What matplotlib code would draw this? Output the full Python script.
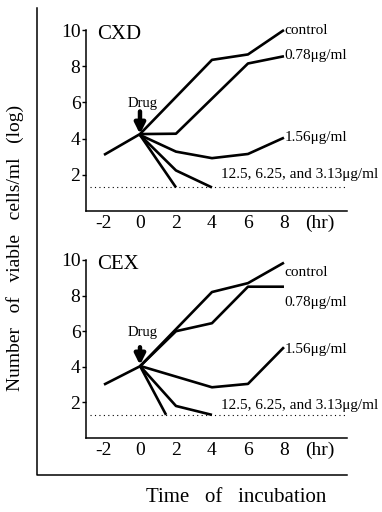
import matplotlib
matplotlib.use("Agg")
import matplotlib.pyplot as plt
from matplotlib.lines import Line2D

plt.rcParams['font.family'] = ['Liberation Serif', 'DejaVu Serif']
plt.rcParams['axes.unicode_minus'] = False

# CXD panel (hours, log viable cells/ml)
cxd_control_t = [-2, 0, 4, 6, 8]
cxd_control_v = [3.1, 4.25, 8.35, 8.65, 10.0]
cxd_078_t = [0, 2, 6, 8]
cxd_078_v = [4.25, 4.27, 8.15, 8.55]
cxd_156_t = [0, 2, 4, 6, 8]
cxd_156_v = [4.2, 3.28, 2.92, 3.15, 4.05]
cxd_high_a_t = [0, 2]
cxd_high_a_v = [4.2, 1.3]
cxd_high_b_t = [0, 2, 4]
cxd_high_b_v = [4.2, 2.24, 1.3]

# CEX panel
cex_control_t = [-2, 0, 4, 6, 8]
cex_control_v = [3.0, 4.03, 8.2, 8.7, 9.85]
cex_078_t = [0, 2, 4, 6, 8]
cex_078_v = [4.03, 6.0, 6.45, 8.5, 8.5]
cex_156_t = [0, 4, 6, 8]
cex_156_v = [4.05, 2.85, 3.04, 5.1]
cex_high_a_t = [0, 1.45]
cex_high_a_v = [4.05, 1.3]
cex_high_b_t = [0, 2, 4]
cex_high_b_v = [4.05, 1.8, 1.3]

detect_limit = 1.3
xticks = [-2, 0, 2, 4, 6, 8]
yticks = [2, 4, 6, 8, 10]


def draw_panel(ax, name, series, labels, drug_y, arrow):
    for t, v in series:
        ax.plot(t, v, color='black', lw=1.9, solid_capstyle='butt', clip_on=False)
    ax.plot([-2.8, 11.5], [detect_limit, detect_limit], color='black', lw=0.8,
            linestyle=(0, (1, 3)), clip_on=False)
    ax.set_xlim(-3, 11.5)
    ax.set_ylim(0, 10)
    for s in ['top', 'right']:
        ax.spines[s].set_visible(False)
    for s in ['left', 'bottom']:
        ax.spines[s].set_linewidth(1.1)
    ax.set_xticks(xticks)
    ax.set_yticks(yticks)
    ax.tick_params(axis='x', length=0, pad=3, labelsize=14)
    ax.tick_params(axis='y', length=3, width=1, pad=1, labelsize=14)
    ax.annotate('(hr)', xy=(10.0, 0), xycoords=('data', 'axes fraction'),
                xytext=(0, -3), textcoords='offset points', ha='center', va='top',
                fontsize=14)
    ax.text(-2.4, 9.75, name, fontsize=15, ha='left', va='center')
    for txt, x, y in labels:
        ax.text(x, y, txt, fontsize=11, ha='left', va='center', clip_on=False)
    ax.text(0.15, drug_y, 'Drug', fontsize=10.5, ha='center', va='center')
    ax.annotate('', xy=(0, arrow[1]), xytext=(0, arrow[0]),
                arrowprops=dict(arrowstyle='-|>,head_width=0.3,head_length=0.6',
                                lw=3.2, color='black', shrinkA=0, shrinkB=0))


fig = plt.figure(figsize=(3.82, 5.12), dpi=100)
ax1 = fig.add_axes([0.2251, 0.5879, 0.6832, 0.3535])
ax2 = fig.add_axes([0.2251, 0.1445, 0.6832, 0.3477])

draw_panel(ax1, 'CXD',
           [(cxd_control_t, cxd_control_v), (cxd_078_t, cxd_078_v),
            (cxd_156_t, cxd_156_v), (cxd_high_a_t, cxd_high_a_v),
            (cxd_high_b_t, cxd_high_b_v)],
           [('control', 8.05, 10.0), ('0.78μg/ml', 8.05, 8.6),
            ('1.56μg/ml', 8.05, 4.05), ('12.5, 6.25, and 3.13μg/ml', 4.5, 2.0)],
           5.95, (5.5, 4.25))
draw_panel(ax2, 'CEX',
           [(cex_control_t, cex_control_v), (cex_078_t, cex_078_v),
            (cex_156_t, cex_156_v), (cex_high_a_t, cex_high_a_v),
            (cex_high_b_t, cex_high_b_v)],
           [('control', 8.05, 9.3), ('0.78μg/ml', 8.05, 7.6),
            ('1.56μg/ml', 8.05, 4.95), ('12.5, 6.25, and 3.13μg/ml', 4.5, 1.8)],
           5.9, (5.1, 4.1))

# outer L-shaped frame
fig.add_artist(Line2D([37 / 382, 37 / 382, 347 / 382],
                      [1 - 8 / 512, 1 - 475 / 512, 1 - 475 / 512],
                      color='black', lw=1.1))

fig.text(15 / 382, 1 - 248 / 512, 'Number   of   viable   cells/ml   (log)',
         rotation=90, ha='center', va='center', fontsize=14)
fig.text(236 / 382, 1 - 497 / 512, 'Time   of   incubation',
         ha='center', va='center', fontsize=15)

fig.savefig('out.png', dpi=100)
